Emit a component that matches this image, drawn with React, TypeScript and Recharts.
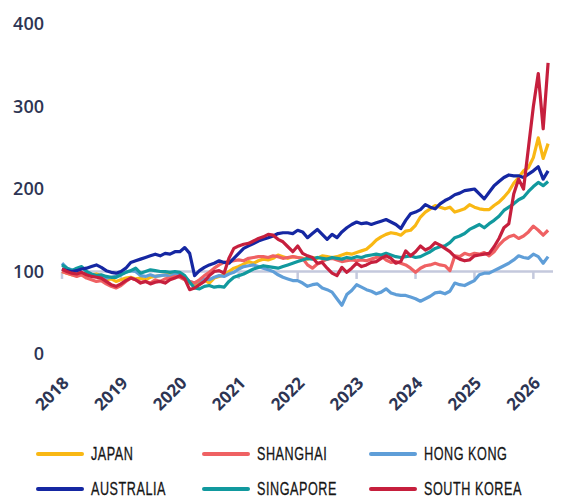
import { LineChart, Line, XAxis, YAxis, ReferenceLine } from 'recharts';

const years = [2018, 2019, 2020, 2021, 2022, 2023, 2024, 2025, 2026];
const yTicks = [0, 100, 200, 300, 400];

// monthly index values, Jan 2018 .. Apr 2026
const japan = [
  100, 98, 96, 97, 96, 95, 96, 97, 95, 90, 91, 88, 90, 92, 93, 91, 92, 90, 93, 94,
  95, 96, 97, 96, 95, 92, 86, 84, 88, 90, 86, 92, 94, 96, 100, 104, 106, 109, 112, 110,
  113, 115, 114, 116, 120, 118, 116, 118, 117, 116, 115, 117, 116, 119, 118, 117, 118, 120, 122, 121,
  123, 125, 127, 132, 138, 142, 145, 147, 146, 144, 149, 150, 156, 166, 172, 176, 180, 178, 176, 178,
  172, 174, 176, 181, 178, 176, 175, 175, 180, 184, 190, 197, 207, 214, 222, 226, 238, 262, 237, 255,
];
const shanghai = [
  100, 98, 96, 94, 96, 92, 90, 88, 89, 85, 82, 80, 83, 88, 92, 90, 87, 88, 86, 90,
  88, 91, 92, 94, 93, 90, 88, 86, 90, 95, 99, 104, 108, 111, 112, 113, 114, 113, 116, 117,
  118, 118, 117, 119, 118, 116, 117, 118, 117, 116, 108, 104, 109, 112, 115, 116, 114, 112, 113, 114,
  113, 114, 113, 115, 117, 119, 114, 111, 112, 110, 108, 104, 99, 104, 107, 108, 110, 108, 107, 101,
  119, 118, 122, 120, 122, 121, 123, 119, 124, 132, 138, 142, 144, 140, 143, 148, 155, 150, 144, 150,
];
const hongKong = [
  110, 104, 102, 100, 98, 97, 96, 94, 95, 92, 93, 94, 97, 99, 101, 100, 95, 94, 96, 94,
  95, 96, 94, 97, 96, 93, 88, 86, 89, 91, 90, 93, 95, 94, 97, 99, 103, 106, 107, 108,
  106, 104, 102, 100, 96, 93, 91, 89, 89, 86, 82, 84, 85, 80, 78, 75, 67, 59, 72, 77,
  84, 81, 78, 76, 73, 75, 79, 74, 72, 71, 71, 69, 67, 64, 67, 70, 74, 75, 73, 76,
  86, 84, 83, 86, 89, 96, 98, 98, 101, 104, 107, 110, 114, 119, 117, 116, 121, 118, 110, 118,
];
const australia = [
  103, 101, 100, 101, 103, 104, 106, 108, 105, 101, 99, 98, 100, 104, 111, 113, 115, 117, 119, 121,
  119, 122, 121, 124, 124, 129, 122, 95, 101, 105, 108, 110, 113, 111, 110, 116, 122, 128, 131, 134,
  137, 139, 141, 143, 146, 147, 147, 146, 150, 148, 141, 146, 151, 145, 139, 145, 141, 148, 153, 157,
  160, 158, 159, 157, 159, 161, 163, 160, 157, 152, 162, 170, 172, 175, 181, 178, 176, 182, 186, 189,
  193, 195, 198, 199, 200, 194, 188, 196, 204, 209, 214, 217, 216, 216, 214, 218, 222, 227, 212, 222,
];
const singapore = [
  108, 104, 101, 104, 106, 100, 97, 95, 96, 94, 93, 93, 96, 99, 101, 104, 98, 100, 102, 101,
  100, 100, 99, 100, 99, 95, 87, 80, 79, 82, 83, 81, 82, 81, 88, 93, 95, 97, 100, 103,
  105, 107, 106, 105, 104, 106, 108, 110, 112, 114, 116, 115, 117, 116, 115, 117, 116, 115, 117, 116,
  118, 117, 119, 120, 121, 120, 122, 120, 118, 117, 118, 119, 117, 118, 121, 124, 128, 130, 131, 135,
  141, 143, 146, 151, 154, 157, 153, 158, 162, 167, 174, 178, 182, 187, 190, 197, 203, 208, 204, 209,
];
const southKorea = [
  103, 100, 98, 97, 99, 96, 94, 93, 92, 88, 84, 82, 85, 89, 92, 90, 86, 88, 85, 87,
  88, 86, 90, 92, 95, 91, 78, 80, 84, 88, 95, 100, 101, 98, 116, 128, 131, 133, 134, 137,
  140, 142, 145, 144, 139, 136, 130, 124, 131, 122, 119, 117, 110, 111, 104, 98, 95, 105, 99, 104,
  110, 106, 108, 111, 112, 116, 119, 116, 110, 112, 125, 119, 124, 131, 126, 129, 135, 132, 128, 124,
  118, 115, 113, 114, 119, 120, 121, 122, 130, 140, 153, 158, 194, 212, 200, 250, 300, 340, 273, 353,
];

const series = [
  { key: 'japan', name: 'JAPAN', color: '#f9b814', values: japan },
  { key: 'shanghai', name: 'SHANGHAI', color: '#ef6163', values: shanghai },
  { key: 'hongKong', name: 'HONG KONG', color: '#5f9ed8', values: hongKong },
  { key: 'australia', name: 'AUSTRALIA', color: '#1527a2', values: australia },
  { key: 'singapore', name: 'SINGAPORE', color: '#11999e', values: singapore },
  { key: 'southKorea', name: 'SOUTH KOREA', color: '#c61f3d', values: southKorea },
];

// which series sit on top
const drawOrder = ['japan', 'hongKong', 'shanghai', 'singapore', 'australia', 'southKorea'];

const data = japan.map((_, i) => {
  const row: Record<string, number> = { m: i };
  series.forEach((s) => (row[s.key] = s.values[i]));
  return row;
});

const monthTicks = years.map((y) => (y - 2018) * 12);
const axisColor = '#c4c9dd';
const textColor = '#2d3553';

function YearTick({ x, y, payload }: any) {
  const ax = x + 8;
  const ay = y + 22;
  return (
    <text
      x={ax}
      y={ay}
      transform={`rotate(-45 ${ax} ${ay})`}
      textAnchor="end"
      fontFamily="'Open Sans'"
      fontWeight={700}
      fontSize={17}
      fill={textColor}
    >
      {2018 + payload.value / 12}
    </text>
  );
}

const legendCols = [36, 202, 369];
const legendRows = [454, 489];

export default function App() {
  return (
    <div style={{ position: 'absolute', left: 0, top: 0, width: 581, height: 497, background: '#fff' }}>
      <LineChart width={581} height={420} data={data} margin={{ top: 24, right: 28, bottom: 0, left: 0 }}>
        <YAxis
          type="number"
          domain={[0, 400]}
          ticks={yTicks}
          width={62}
          axisLine={false}
          tickLine={false}
          tickMargin={12}
          tick={{ fontFamily: 'Open Sans', fontWeight: 600, fontSize: 18, fill: textColor }}
        />
        <XAxis
          type="number"
          dataKey="m"
          domain={[0, 100]}
          ticks={monthTicks}
          height={66}
          axisLine={false}
          tickLine={false}
          interval={0}
          tick={<YearTick />}
        />
        <ReferenceLine y={100} stroke={axisColor} strokeWidth={2.5} />
        {monthTicks.map((m) => (
          <ReferenceLine
            key={m}
            segment={[
              { x: m, y: 100 },
              { x: m, y: 91 },
            ]}
            stroke={axisColor}
            strokeWidth={2.5}
          />
        ))}
        {drawOrder.map((k) => {
          const s = series.find((d) => d.key === k)!;
          return (
            <Line
              key={s.key}
              dataKey={s.key}
              name={s.name}
              stroke={s.color}
              strokeWidth={3.2}
              dot={false}
              strokeLinejoin="round"
              isAnimationActive={false}
            />
          );
        })}
      </LineChart>
      {series.map((s, i) => {
        const left = legendCols[i % 3];
        const top = legendRows[Math.floor(i / 3)];
        return (
          <div
            key={s.key}
            style={{ position: 'absolute', left, top: top - 12, height: 24, display: 'flex', alignItems: 'center' }}
          >
            <span style={{ display: 'inline-block', width: 48, height: 4, borderRadius: 2, background: s.color }} />
            <span
              style={{
                marginLeft: 7,
                fontFamily: "'Liberation Sans'",
                fontSize: 18,
                color: '#151515',
                whiteSpace: 'nowrap',
                display: 'inline-block',
                letterSpacing: 0.8,
                WebkitTextStroke: '0.3px #151515',
                transform: 'scaleX(0.7)',
                transformOrigin: 'left center',
              }}
            >
              {s.name}
            </span>
          </div>
        );
      })}
    </div>
  );
}
